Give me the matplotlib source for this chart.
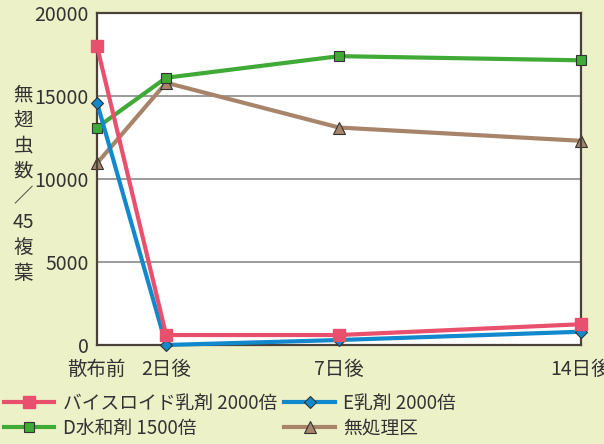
import matplotlib
matplotlib.use("Agg")
import matplotlib.pyplot as plt

plt.rcParams['font.family'] = ['Noto Sans CJK JP', 'DejaVu Sans']

# Days after spraying and their tick labels
days = [0, 2, 7, 14]
day_labels = ["散布前", "2日後", "7日後", "14日後"]

# Aphid counts per 45 compound leaves
viceroid = [18000, 600, 600, 1250]
e_emulsion = [14600, 0, 300, 800]
d_wettable = [13100, 16100, 17400, 17150]
untreated = [10950, 15800, 13100, 12300]

series_names = ["バイスロイド乳剤 2000倍", "E乳剤 2000倍", "D水和剤 1500倍", "無処理区"]

bg = "#EDF1C8"
text_color = "#333333"

fig = plt.figure(figsize=(6.04, 4.44), dpi=100, facecolor=bg)
ax = fig.add_axes([97 / 604, 1 - 345 / 444, (581 - 97) / 604, (345 - 13) / 444])
ax.set_facecolor("white")

lw = 3.0
h1, = ax.plot(days, viceroid, color="#E8506E", lw=lw, marker="s", ms=8,
              mfc="#E8506E", mec="#E8506E", zorder=5, clip_on=False)
h2, = ax.plot(days, e_emulsion, color="#1289CD", lw=lw, marker="D", ms=6.5,
              mfc="#1289CD", mec="#333333", mew=0.8, zorder=4, clip_on=False)
h3, = ax.plot(days, d_wettable, color="#3FAA35", lw=lw, marker="s", ms=6.5,
              mfc="#3FAA35", mec="#333333", mew=0.8, zorder=3, clip_on=False)
h4, = ax.plot(days, untreated, color="#A8846A", lw=lw, marker="^", ms=9,
              mfc="#A8846A", mec="#333333", mew=0.8, zorder=2, clip_on=False)

ax.set_xlim(0, 14)
ax.set_ylim(0, 20000)
ax.set_yticks([0, 5000, 10000, 15000, 20000])
ax.set_yticklabels(["0", "5000", "10000", "15000", "20000"])
ax.set_xticks(days)
ax.set_xticklabels(day_labels)
ax.tick_params(axis="both", length=0, labelsize=14, colors=text_color)
ax.tick_params(axis="y", pad=6)
ax.tick_params(axis="x", pad=10)

ax.yaxis.grid(True, color="#8a8a8a", lw=1.2)
ax.set_axisbelow(True)
for side in ["left", "right", "top", "bottom"]:
    ax.spines[side].set_color("#4a4238")
    ax.spines[side].set_linewidth(1.6)

# Vertical stacked axis title
ylabel = "無\n翅\n虫\n数\n／\n45\n複\n葉"
fig.text(23 / 604, 1 - 184 / 444, ylabel, ha="center", va="center",
         fontsize=14, color=text_color, linespacing=1.28)

# Legend filled column-wise: reorder so rows read left to right
fig.legend([h1, h3, h2, h4],
           [series_names[0], series_names[2], series_names[1], series_names[3]],
           loc="upper left", bbox_to_anchor=(-0.022, 1 - 376 / 444), ncol=2,
           frameon=False, fontsize=13.5, handlelength=2.7, handletextpad=0.45,
           columnspacing=0.4, labelspacing=0.2, labelcolor=text_color)

fig.savefig("out.png", dpi=100, facecolor=bg)
